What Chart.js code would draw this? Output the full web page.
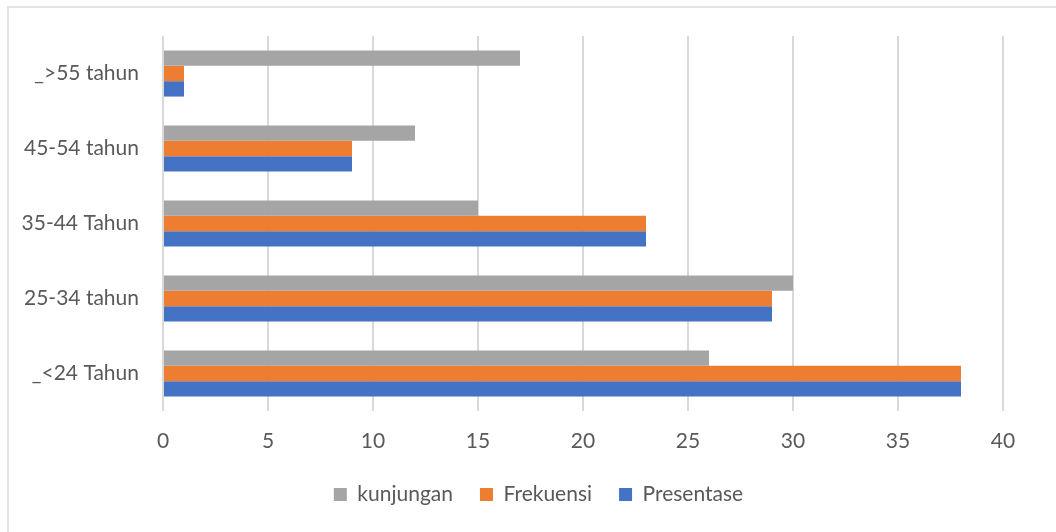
<!DOCTYPE html>
<html>
<head>
<meta charset="utf-8">
<script src="https://cdn.jsdelivr.net/npm/chart.js@4/dist/chart.umd.min.js"></script>
<style>
  html, body { margin: 0; padding: 0; background: #fff; }
  #wrap { position: relative; width: 1056px; height: 532px; overflow: hidden; }
  #frame { position: absolute; left: 7px; top: 6px; width: 1100px; height: 600px; border: 2px solid #e3e3e3; box-sizing: border-box; }
  canvas { position: absolute; left: 0; top: 0; }
</style>
</head>
<body>
<div id="wrap">
  <div id="frame"></div>
  <canvas id="grafico" width="1056" height="532"></canvas>
</div>
<script>
const kategori = ["_>55 tahun", "45-54 tahun", "35-44 Tahun", "25-34 tahun", "_<24 Tahun"];
const kunjungan = [17, 12, 15, 30, 26];
const frekuensi = [1, 9, 23, 29, 38];
const presentase = [1, 9, 23, 29, 38];
const tickX = [0, 5, 10, 15, 20, 25, 30, 35, 40];

const teks = "#595959";
const huruf = "Lato, 'Open Sans', sans-serif";

// legend in Excel is centred on the whole frame, not the plot
const geserLegend = {
  id: "geserLegend",
  afterLayout(chart) {
    chart.legend.left += 37;
    chart.legend.right += 37;
  }
};

document.addEventListener("DOMContentLoaded", () => {
  const ctx = document.getElementById("grafico");

  new Chart(ctx, {
    type: "bar",
    data: {
      labels: kategori,
      datasets: [
        { label: "kunjungan", data: kunjungan, backgroundColor: "#a5a5a5" },
        { label: "Frekuensi", data: frekuensi, backgroundColor: "#ed7d31" },
        { label: "Presentase", data: presentase, backgroundColor: "#4472c4" }
      ]
    },
    plugins: [geserLegend],
    options: {
      indexAxis: "y",
      responsive: false,
      animation: false,
      categoryPercentage: 0.615,
      barPercentage: 1,
      layout: { padding: { top: 36, right: 53, bottom: 17, left: 0 } },
      plugins: {
        legend: {
          position: "bottom",
          labels: {
            color: teks,
            font: { family: huruf, size: 21 },
            boxWidth: 13,
            boxHeight: 13,
            padding: 27
          }
        },
        tooltip: { enabled: false }
      },
      scales: {
        x: {
          min: 0,
          max: 40,
          afterBuildTicks: (axis) => { axis.ticks = tickX.map(v => ({ value: v })); },
          afterFit: (axis) => { axis.height = 46; },
          grid: { color: "#d9d9d9", lineWidth: 2, drawTicks: false },
          border: { display: false },
          ticks: { color: teks, font: { family: huruf, size: 21 }, padding: 18 }
        },
        y: {
          grid: { display: false },
          border: { display: false },
          afterFit: (axis) => { axis.width = 163; },
          ticks: { color: teks, font: { family: huruf, size: 21 }, padding: 16 }
        }
      }
    }
  });
});
</script>
</body>
</html>
